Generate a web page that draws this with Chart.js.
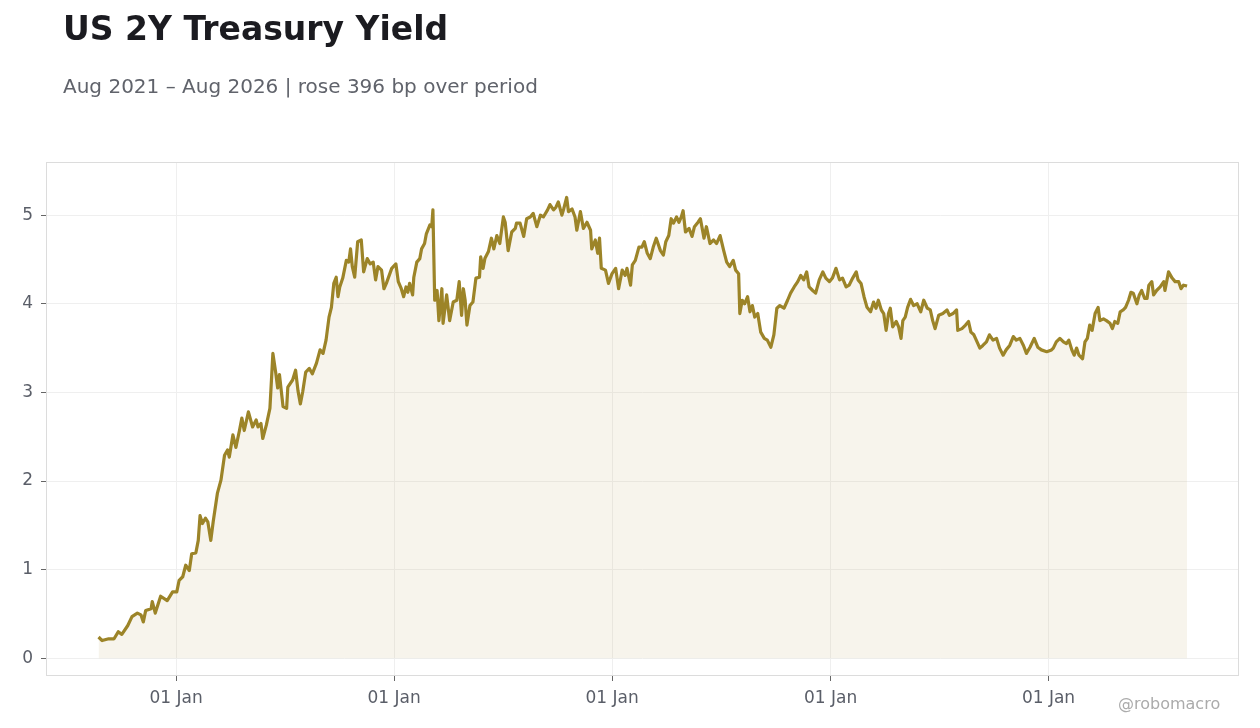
<!DOCTYPE html>
<html>
<head>
<meta charset="utf-8">
<script src="https://cdn.jsdelivr.net/npm/chart.js@4/dist/chart.umd.min.js"></script>
<style>
  html, body { margin: 0; padding: 0; background: #fff; }
  body { width: 1260px; height: 728px; position: relative; overflow: hidden; font-family: "DejaVu Sans", sans-serif; }
  #title { position: absolute; left: 63px; top: 12px; font-size: 33px; line-height: 1; font-weight: bold; color: #1b1b20; }
  #subtitle { position: absolute; left: 63px; top: 76px; font-size: 20px; line-height: 1; color: #60636b; }
  #credit { position: absolute; left: 1118px; top: 696px; font-size: 16px; line-height: 1; color: #ababab; }
  #wrap { position: absolute; left: 0; top: 0; width: 1260px; height: 728px; }
</style>
</head>
<body>
<div id="wrap"><canvas id="chart" width="1260" height="728"></canvas></div>
<div id="title">US 2Y Treasury Yield</div>
<div id="subtitle">Aug 2021 – Aug 2026 | rose 396 bp over period</div>
<div id="credit">@robomacro</div>
<script>
// days since 01 Jan 2022
const days = [
  -130, -124, -113, -104, -97, -91, -81, -74, -65, -59, -55, -51, -42, -40, -35, -26, -15, -6,
  1, 5, 11, 16, 22, 26, 33, 37, 40, 44, 49, 53, 58, 62, 69, 75, 81, 86, 89, 95, 100, 106, 110, 114,
  121, 128, 134, 137, 142, 145, 151, 157, 162, 167, 170, 173, 179, 185, 187, 195, 200, 204, 208, 212,
  217, 223, 228, 235, 241, 246, 251, 256, 260, 264, 268, 271, 274, 279, 285, 289, 292, 295, 299, 304,
  310, 314, 320, 325, 330, 334, 338, 344, 348, 352, 361,
  368, 372, 377, 381, 385, 388, 391, 396, 398, 403, 408, 411, 416, 419, 425, 428, 430, 433, 437, 440,
  445, 447, 453, 458, 464, 470, 474, 478, 481, 484, 487, 492, 497, 502, 508, 510, 514, 517, 523, 528,
  532, 537, 542, 548, 551, 556, 562, 568, 570, 576, 582, 587, 593, 598, 604, 610, 615, 622, 626, 632,
  636, 640, 646, 649, 654, 657, 663, 668, 671, 677, 682, 688, 694, 696, 702, 706, 709, 712, 719, 724,
  730, 736, 741, 747, 752, 755, 761, 764, 769, 775, 780, 784, 789, 794, 799, 804, 811, 816, 820, 825,
  829, 833, 838, 842, 846, 849, 853, 859, 864, 868, 874, 878, 884, 888, 894, 900, 905, 911, 917, 922,
  927, 933, 937, 942, 944, 948, 952, 957, 961, 965, 969, 974, 979, 985, 990, 996, 1001, 1006, 1011, 1018,
  1024, 1029, 1035, 1041, 1046, 1051, 1056, 1060, 1066, 1071, 1077, 1083, 1088, 1094, 1099, 1105, 1111, 1116, 1122, 1127,
  1133, 1139, 1142, 1147, 1152, 1157, 1163, 1168, 1172, 1176, 1181, 1185, 1189, 1193, 1196, 1200, 1206, 1210, 1214, 1217,
  1221, 1225, 1230, 1235, 1241, 1247, 1252, 1258, 1263, 1267, 1271, 1277, 1284, 1291, 1295, 1301, 1307, 1309, 1316, 1322,
  1327, 1331, 1336, 1340, 1346, 1351, 1357, 1362, 1368, 1374, 1379, 1385, 1390, 1396, 1402, 1407, 1413, 1419, 1424, 1430,
  1437, 1443, 1449, 1458, 1466, 1469, 1474, 1480, 1486, 1491, 1495, 1500, 1504, 1508, 1512, 1518, 1522, 1526, 1530, 1534,
  1539, 1544, 1547, 1553, 1558, 1564, 1568, 1572, 1577, 1581, 1586, 1590, 1595, 1599, 1603, 1609, 1613, 1617, 1622, 1626,
  1629, 1634, 1637, 1642, 1648, 1654, 1656, 1662, 1668, 1673, 1679, 1683, 1687, 1693
];

// yield in percent
const yields = [
  0.24, 0.20, 0.22, 0.22, 0.30, 0.27, 0.37, 0.47, 0.51, 0.49, 0.41, 0.54, 0.56, 0.64, 0.51, 0.70, 0.65, 0.75,
  0.75, 0.88, 0.92, 1.05, 0.99, 1.18, 1.19, 1.33, 1.61, 1.52, 1.58, 1.54, 1.33, 1.54, 1.86, 2.01, 2.29, 2.35, 2.27, 2.52, 2.38, 2.57, 2.71, 2.57,
  2.78, 2.61, 2.69, 2.61, 2.65, 2.48, 2.63, 2.82, 3.44, 3.21, 3.05, 3.20, 2.84, 2.82, 3.06, 3.14, 3.25, 3.02, 2.87, 3.01,
  3.23, 3.27, 3.21, 3.33, 3.48, 3.44, 3.59, 3.85, 3.96, 4.23, 4.30, 4.08, 4.19, 4.29, 4.49, 4.47, 4.62, 4.42, 4.30, 4.70,
  4.72, 4.36, 4.51, 4.45, 4.47, 4.27, 4.42, 4.38, 4.17, 4.23, 4.40,
  4.45, 4.25, 4.17, 4.08, 4.19, 4.13, 4.23, 4.10, 4.30, 4.47, 4.51, 4.62, 4.68, 4.79, 4.89, 4.87, 5.06, 4.04, 4.15, 3.81,
  4.17, 3.78, 4.10, 3.81, 4.02, 4.04, 4.25, 3.87, 4.17, 4.04, 3.76, 3.98, 4.02, 4.29, 4.30, 4.53, 4.40, 4.51, 4.59, 4.74,
  4.62, 4.77, 4.68, 4.98, 4.92, 4.60, 4.81, 4.85, 4.91, 4.91, 4.76, 4.96, 4.98, 5.02, 4.87, 5.00, 4.98, 5.06, 5.12, 5.06,
  5.09, 5.15, 5.00, 5.07, 5.20, 5.04, 5.07, 4.98, 4.83, 5.04, 4.85, 4.92, 4.83, 4.62, 4.72, 4.57, 4.74, 4.40, 4.38, 4.23,
  4.34, 4.40, 4.17, 4.38, 4.32, 4.40, 4.21, 4.44, 4.49, 4.64, 4.64, 4.70, 4.57, 4.51, 4.64, 4.74, 4.60, 4.55, 4.70, 4.77,
  4.96, 4.91, 4.98, 4.92, 4.98, 5.05, 4.81, 4.85, 4.76, 4.87, 4.92, 4.96, 4.74, 4.87, 4.68, 4.72, 4.68, 4.77, 4.60, 4.47,
  4.42, 4.49, 4.38, 4.34, 3.89, 4.04, 4.00, 4.08, 3.91, 3.98, 3.85, 3.89, 3.68, 3.61, 3.59, 3.51, 3.65, 3.95, 3.98, 3.95,
  4.04, 4.12, 4.19, 4.25, 4.32, 4.27, 4.36, 4.19, 4.15, 4.12, 4.27, 4.36, 4.29, 4.25, 4.29, 4.40, 4.27, 4.29, 4.19, 4.21,
  4.29, 4.36, 4.27, 4.23, 4.08, 3.96, 3.91, 4.02, 3.95, 4.04, 3.93, 3.89, 3.70, 3.89, 3.95, 3.74, 3.80, 3.74, 3.61, 3.81,
  3.85, 3.96, 4.05, 3.98, 4.00, 3.91, 4.04, 3.95, 3.93, 3.81, 3.72, 3.87, 3.89, 3.93, 3.87, 3.89, 3.93, 3.70, 3.72, 3.76,
  3.80, 3.68, 3.65, 3.59, 3.50, 3.53, 3.57, 3.65, 3.59, 3.61, 3.50, 3.42, 3.48, 3.53, 3.63, 3.59, 3.61, 3.53, 3.44, 3.51,
  3.61, 3.51, 3.48, 3.46, 3.48, 3.50, 3.57, 3.61, 3.57, 3.55, 3.59, 3.48, 3.42, 3.50, 3.42, 3.38, 3.57, 3.61, 3.76, 3.70,
  3.89, 3.96, 3.81, 3.83, 3.81, 3.78, 3.72, 3.80, 3.78, 3.91, 3.93, 3.96, 4.04, 4.13, 4.12, 4.00, 4.10, 4.15, 4.06, 4.06,
  4.21, 4.25, 4.10, 4.15, 4.19, 4.25, 4.15, 4.36, 4.29, 4.25, 4.25, 4.17, 4.21, 4.20
];

// 01 Jan of 2022..2026, in days since 01 Jan 2022
const yearStarts = [0, 365, 730, 1096, 1461];
const yTicks = [0, 1, 2, 3, 4, 5];

const lineColor = '#9c8428';
const points = days.map((d, i) => ({ x: d, y: yields[i] }));

// full frame round the plot area
const framePlugin = {
    id: 'frame',
    afterDraw(chart) {
        const { ctx, chartArea: a } = chart;
        ctx.save();
        ctx.strokeStyle = '#dcdcdc';
        ctx.lineWidth = 1;
        ctx.strokeRect(a.left + 0.5, a.top + 0.5, a.right - a.left - 1, a.bottom - a.top - 1);
        ctx.restore();
    }
};

Chart.defaults.font.family = '"DejaVu Sans", sans-serif';

new Chart(document.getElementById('chart'), {
    type: 'line',
    data: {
        datasets: [{
            data: points,
            borderColor: lineColor,
            borderWidth: 3.2,
            borderJoinStyle: 'round',
            backgroundColor: 'rgba(190, 165, 100, 0.12)',
            fill: 'origin',
            pointRadius: 0,
            tension: 0
        }]
    },
    options: {
        responsive: false,
        animation: false,
        layout: { padding: { top: 162, right: 21, left: 0, bottom: 0 } },
        plugins: { legend: { display: false }, tooltip: { enabled: false } },
        scales: {
            x: {
                type: 'linear',
                min: -218,
                max: 1780,
                afterBuildTicks: s => { s.ticks = yearStarts.map(v => ({ value: v })); },
                afterFit: s => { s.height = 52; },
                ticks: {
                    callback: () => '01 Jan',
                    color: '#5a5e68',
                    font: { size: 17 },
                    maxRotation: 0,
                    padding: 7
                },
                grid: { color: '#efefef', tickColor: '#666', tickLength: 5 },
                border: { display: false }
            },
            y: {
                min: -0.2,
                max: 5.6,
                afterBuildTicks: s => { s.ticks = yTicks.map(v => ({ value: v })); },
                afterFit: s => { s.width = 46; },
                ticks: {
                    color: '#5a5e68',
                    font: { size: 17 },
                    padding: 8
                },
                grid: { color: '#efefef', tickColor: '#666', tickLength: 5 },
                border: { display: false }
            }
        }
    },
    plugins: [framePlugin]
});
</script>
</body>
</html>
